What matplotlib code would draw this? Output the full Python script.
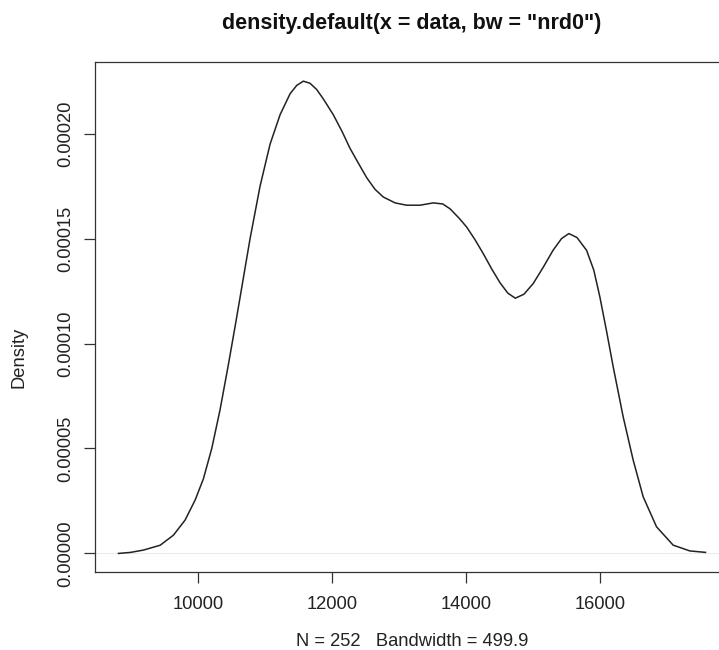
import matplotlib
matplotlib.use("Agg")
import matplotlib.pyplot as plt

# kernel density estimate, evaluated along x
density_x = [8818, 9000, 9190, 9439, 9637, 9811, 9960, 10083, 10208, 10332,
             10456, 10555, 10630, 10779, 10928, 11077, 11226, 11375, 11475,
             11573, 11672, 11772, 11871, 12019, 12150, 12268, 12400, 12517,
             12640, 12764, 12940, 13112, 13311, 13509, 13650, 13758, 13900,
             14006, 14130, 14254, 14380, 14502, 14620, 14731, 14860, 14998,
             15150, 15295, 15420, 15529, 15650, 15793, 15900, 15991, 16090,
             16189, 16338, 16487, 16636, 16835, 17083, 17331, 17565]
density_y = [0.0, 0.5e-6, 1.6e-6, 3.9e-6, 8.7e-6, 1.59e-5, 2.54e-5, 3.55e-5,
             5.0e-5, 6.85e-5, 9.0e-5, 1.08e-4, 1.22e-4, 1.5e-4, 1.75e-4,
             1.95e-4, 2.09e-4, 2.19e-4, 2.23e-4, 2.25e-4, 2.24e-4, 2.21e-4,
             2.165e-4, 2.09e-4, 2.01e-4, 1.93e-4, 1.855e-4, 1.79e-4,
             1.735e-4, 1.698e-4, 1.67e-4, 1.659e-4, 1.659e-4, 1.67e-4,
             1.665e-4, 1.642e-4, 1.595e-4, 1.555e-4, 1.495e-4, 1.428e-4,
             1.355e-4, 1.29e-4, 1.24e-4, 1.216e-4, 1.235e-4, 1.286e-4,
             1.365e-4, 1.445e-4, 1.5e-4, 1.524e-4, 1.505e-4, 1.444e-4,
             1.35e-4, 1.222e-4, 1.06e-4, 0.89e-4, 0.651e-4, 0.445e-4,
             0.27e-4, 0.127e-4, 3.95e-6, 1.2e-6, 5e-7]

n_obs = 252
bandwidth = 499.9
x_ticks = [10000, 12000, 14000, 16000]
y_ticks = [0.0, 0.00005, 0.0001, 0.00015, 0.0002]
y_tick_labels = ["0.00000", "0.00005", "0.00010", "0.00015", "0.00020"]

plt.rcParams["font.family"] = ["Liberation Sans", "DejaVu Sans"]

fig = plt.figure(figsize=(7.19, 6.5), dpi=100)
ax = fig.add_axes([0.1321, 0.1195, 0.8818, 0.7847])

# R style axis padding: 4% either side of the data range
x_lo, x_hi = min(density_x), max(density_x)
y_hi = max(density_y)
ax.set_xlim(x_lo - 0.04 * (x_hi - x_lo), x_hi + 0.04 * (x_hi - x_lo))
ax.set_ylim(-0.04 * y_hi, 1.04 * y_hi)

ax.axhline(0, color="#d8d8d8", lw=0.4, zorder=1)
ax.plot(density_x, density_y, color="#222222", lw=1.1, zorder=2,
        solid_joinstyle="round")

ax.set_xticks(x_ticks)
ax.set_xticklabels([str(t) for t in x_ticks])
ax.set_yticks(y_ticks)
ax.set_yticklabels(y_tick_labels, rotation=90, va="center")
ax.tick_params(direction="out", length=8, width=0.9, color="#333333",
               labelsize=13.2, labelcolor="#222222")
ax.tick_params(axis="x", pad=9)
ax.tick_params(axis="y", pad=7)
for sp in ax.spines.values():
    sp.set_color("#333333")
    sp.set_linewidth(0.9)

fig.text(412 / 719, 1 - 23 / 650, 'density.default(x = data, bw = "nrd0")',
         ha="center", va="center", fontsize=15.5, fontweight="bold",
         color="#111111")
fig.text(412 / 719, 1 - 641 / 650,
         f"N = {n_obs}   Bandwidth = {bandwidth}",
         ha="center", va="center", fontsize=13.2, color="#222222")
fig.text(19 / 719, 1 - 357 / 650, "Density", rotation=90,
         ha="center", va="center", fontsize=13.2, color="#222222")

fig.savefig("out.png", dpi=100)
